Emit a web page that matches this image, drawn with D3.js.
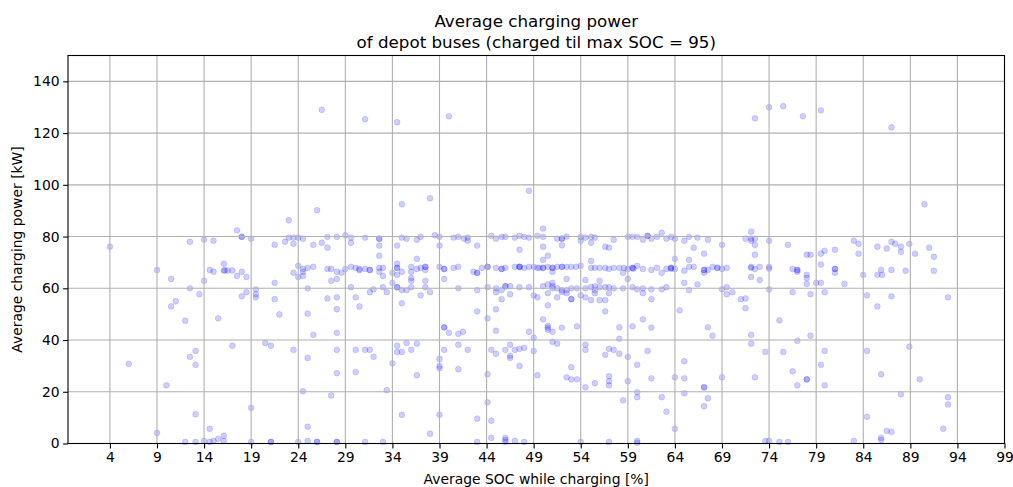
<!DOCTYPE html>
<html><head><meta charset="utf-8">
<script src="https://cdn.jsdelivr.net/npm/d3@7"></script>
<style>body{margin:0;background:#fff} text{font-family:"DejaVu Sans",sans-serif}</style>
</head><body><svg id="c" width="1013" height="487"></svg>
<script>
const titleLines = ["Average charging power", "of depot buses (charged til max SOC = 95)"];
const xLabel = "Average SOC while charging [%]";
const yLabel = "Average charging power [kW]";
const xTicks = [4,9,14,19,24,29,34,39,44,49,54,59,64,69,74,79,84,89,94,99];
const yTicks = [0,20,40,60,80,100,120,140];
// [average SOC %, average power kW]
const samples = [
[4.0,76.1],[6.0,30.8],[9.0,67.1],[10.5,63.6],[12.5,78.0],[14.0,78.8],[15.0,78.4],[16.1,69.5],[16.1,66.9],[16.2,66.9],[14.6,67.1],[15.0,66.4],[14.0,62.9],[12.5,60.0],[13.5,57.7],[11.0,55.0],[10.5,53.0],[12.0,47.5],[15.5,48.4],[13.1,35.8],[12.5,33.5],[13.1,30.4],[10.0,22.5],[13.1,11.3],[9.0,4.1],[14.6,5.7],[12.0,0.6],[13.1,0.6],[14.0,1.0],[14.6,0.6],[15.0,1.0],[15.5,1.8],[16.1,3.0],[16.1,1.0],
[16.5,66.9],[17.0,66.9],[17.5,82.4],[18.0,79.9],[18.0,79.9],[19.0,79.2],[17.5,64.8],[18.0,66.4],[18.5,64.4],[18.0,56.9],[18.5,58.5],[19.5,59.6],[19.5,57.7],[19.5,56.5],[17.0,37.8],[20.5,38.9],[21.1,37.8],[19.0,13.8],[19.0,0.6],[21.1,0.6],[21.1,0.6],[21.5,76.8],[21.5,62.1],[21.5,55.8],[22.0,49.9],[22.6,78.0],[23.0,86.3],[23.0,79.6],[23.5,79.6],[23.5,77.2],[24.0,79.6],[24.5,79.2],[23.5,66.0],[24.0,68.7],[24.0,64.4],[24.5,66.4],[24.5,64.8],[24.5,67.5],[25.0,67.9],[25.6,68.3],[25.0,60.0],[23.5,36.2],[25.0,50.2],[25.6,42.0],[25.0,33.1],[24.5,20.2],[25.0,6.5],[24.0,0.6],[25.0,1.0],[26.0,0.6],[26.0,0.6],[26.0,90.2],[25.6,76.8],[26.5,129.0],[26.5,77.6],[27.1,79.9],[27.1,75.7],[27.1,67.5],[27.5,67.5],[27.5,62.9],[28.1,63.6],[28.1,66.4],[28.6,66.0],[29.0,67.5],[28.1,79.9],[29.0,80.5],[29.6,79.6],[29.6,77.6],[31.1,79.6],[27.1,56.1],[28.1,56.5],[28.1,51.9],[28.1,42.8],[28.1,36.2],[28.1,27.2],[27.5,18.6],[28.1,0.6],[28.1,0.6],[29.6,68.3],[30.1,67.9],[30.5,67.5],[30.5,67.0],[31.1,67.5],[31.6,67.1],[31.6,67.1],[29.6,60.4],[30.1,56.5],[30.5,53.0],[30.1,36.2],[30.1,27.6],[31.1,36.2],[31.6,36.2],[32.0,33.5],[31.1,0.6],[31.1,125.4],[31.6,58.5],[32.0,59.6],[32.6,79.2],[32.6,79.2],[32.6,76.5],[32.6,72.6],[32.6,67.9],[32.6,66.4],[33.0,67.9],[33.0,64.8],[33.0,60.4],[33.0,0.6],
[34.5,124.2],[40.0,126.5],[35.0,92.5],[38.0,94.8],[48.5,97.7],[35.0,79.6],[35.5,79.2],[36.6,78.8],[37.0,79.9],[38.5,80.5],[39.0,79.9],[40.5,79.6],[41.0,79.9],[41.6,79.2],[42.0,79.6],[42.0,78.4],[43.0,76.5],[44.5,80.3],[45.0,79.2],[45.6,79.9],[46.0,79.9],[47.0,79.6],[47.5,80.3],[48.0,79.9],[48.5,79.6],[49.4,80.3],[34.5,76.5],[39.0,76.5],[47.5,74.9],[34.5,69.5],[34.5,67.9],[34.5,67.9],[34.0,66.0],[34.5,65.2],[35.0,66.4],[36.0,68.3],[36.0,66.4],[36.6,71.4],[36.6,67.5],[37.0,67.9],[37.5,68.3],[37.5,68.3],[37.5,67.1],[36.0,64.0],[36.0,62.9],[37.5,62.9],[39.0,68.3],[39.5,67.5],[39.5,67.5],[39.5,63.6],[40.5,67.9],[41.0,68.3],[42.6,66.4],[43.0,66.0],[43.0,66.0],[43.5,67.9],[44.1,68.3],[44.1,68.3],[45.0,67.9],[45.6,67.5],[45.6,67.5],[46.0,67.9],[47.0,68.3],[47.5,68.3],[47.5,68.3],[47.5,68.3],[48.0,67.9],[48.5,68.3],[49.0,68.3],[49.4,67.9],[33.4,58.5],[34.0,62.1],[34.5,60.4],[34.5,60.4],[35.0,59.3],[35.5,59.3],[36.0,60.4],[37.0,57.3],[37.5,60.4],[38.0,58.5],[41.0,60.0],[43.0,59.3],[44.1,60.4],[45.0,60.0],[45.0,58.5],[45.6,59.3],[46.0,60.8],[46.0,60.8],[46.5,57.7],[46.5,60.8],[47.5,60.4],[48.5,60.4],[49.0,57.3],[49.4,56.5],[35.0,54.2],[43.0,51.1],[44.1,48.4],[45.0,51.9],[45.6,55.8],[39.5,44.9],[39.5,44.9],[40.0,42.8],[41.0,42.4],[41.5,43.2],[45.0,43.6],[48.5,43.2],[49.0,40.9],[34.5,37.8],[34.5,35.4],[35.0,35.4],[35.5,38.9],[36.0,36.2],[36.6,38.6],[39.5,36.2],[41.0,38.2],[42.0,36.2],[44.5,36.2],[45.0,34.7],[46.0,36.2],[46.5,38.2],[46.5,33.9],[46.5,33.1],[47.0,36.2],[47.5,36.6],[48.0,37.0],[49.0,35.8],[34.0,31.0],[39.0,32.7],[39.0,30.0],[39.0,29.1],[41.0,28.7],[36.6,26.4],[44.1,26.8],[47.5,30.0],[49.4,26.4],[33.4,20.6],[35.0,11.1],[39.0,11.1],[44.1,15.9],[43.0,9.6],[44.5,8.8],[38.0,3.8],[43.0,0.6],[44.5,2.2],[46.0,2.2],[46.0,1.4],[46.0,0.6],[47.0,1.0],[48.0,0.6],
[50.0,83.1],[50.0,79.9],[50.0,76.1],[50.5,72.6],[50.0,71.0],[51.5,79.2],[52.0,79.2],[52.0,79.2],[52.5,80.0],[52.0,76.6],[54.0,79.9],[54.0,78.4],[54.5,79.6],[55.1,79.9],[55.5,79.6],[55.1,77.6],[56.6,76.1],[57.0,75.7],[57.5,78.8],[59.0,79.9],[59.5,79.9],[60.0,79.9],[60.6,78.8],[61.1,80.3],[61.1,80.3],[61.5,79.2],[62.1,79.9],[62.6,81.5],[63.1,79.2],[63.6,79.9],[64.0,79.2],[65.0,78.4],[65.5,79.9],[66.0,75.7],[66.4,79.6],[64.0,71.4],[65.5,71.0],[49.6,67.9],[50.0,67.9],[50.0,67.9],[50.5,68.3],[51.0,67.9],[51.0,67.9],[51.5,68.3],[52.0,68.3],[52.0,68.3],[52.5,68.3],[53.0,68.3],[53.5,68.3],[54.0,68.7],[55.1,67.9],[55.1,70.6],[55.5,67.9],[56.0,67.9],[56.6,67.9],[57.0,67.5],[57.5,67.9],[58.1,67.9],[58.6,67.9],[58.5,66.0],[59.0,67.5],[59.5,67.9],[59.5,67.9],[59.6,67.6],[60.0,68.7],[60.6,67.5],[61.5,67.1],[62.1,67.9],[62.6,66.0],[63.1,67.5],[63.6,67.9],[63.6,67.9],[63.6,67.6],[64.0,67.5],[65.0,66.8],[65.5,68.3],[66.0,68.3],[51.0,66.4],[50.0,60.8],[50.5,61.5],[51.0,62.1],[51.0,60.8],[51.0,60.0],[51.5,60.0],[52.0,59.3],[52.5,63.6],[52.5,59.3],[53.0,60.0],[53.6,60.0],[54.5,63.2],[54.5,60.0],[55.1,60.4],[55.5,60.8],[55.5,59.3],[55.5,58.1],[56.0,62.9],[56.0,60.4],[56.6,60.4],[57.0,60.4],[57.0,58.1],[57.5,60.0],[58.5,60.0],[59.0,63.6],[59.5,60.4],[60.0,59.6],[60.6,60.0],[60.6,58.1],[61.5,59.6],[61.5,55.8],[62.6,59.6],[63.1,60.4],[65.0,62.1],[65.5,59.3],[66.4,61.5],[50.5,58.1],[51.5,56.5],[52.0,58.5],[52.5,58.1],[53.0,55.8],[53.0,55.8],[54.0,57.3],[54.5,56.5],[55.1,55.4],[56.0,55.4],[56.6,55.4],[56.6,51.1],[50.5,53.4],[50.0,48.0],[50.5,45.5],[50.5,44.8],[50.5,44.0],[51.0,43.2],[52.0,44.8],[53.6,45.3],[51.0,39.3],[51.5,38.6],[54.5,38.2],[54.5,36.2],[57.0,36.6],[56.6,34.3],[57.5,36.2],[58.1,34.7],[58.1,44.9],[58.1,40.5],[59.5,45.3],[60.6,48.0],[61.5,44.8],[59.0,33.5],[60.0,30.4],[61.1,35.8],[64.5,51.5],[65.0,31.8],[53.0,29.5],[52.5,25.6],[53.0,24.8],[53.6,24.8],[54.5,21.7],[55.5,23.3],[57.0,26.0],[57.0,24.1],[57.0,22.5],[59.0,24.1],[60.0,19.8],[60.0,17.9],[58.5,16.7],[61.5,25.2],[62.6,17.9],[63.1,12.3],[64.0,25.6],[65.0,25.2],[65.0,19.4],[64.0,5.7],[54.0,0.6],[57.0,0.6],[60.0,1.0],[60.0,0.3],
[67.5,78.8],[69.0,76.8],[67.1,73.4],[67.1,67.1],[67.1,67.1],[67.5,67.1],[68.0,68.3],[68.5,67.9],[68.5,67.9],[69.0,67.5],[69.5,67.9],[67.1,66.0],[69.0,59.6],[69.5,60.4],[69.5,57.7],[70.1,58.5],[71.0,55.8],[71.5,56.1],[71.5,52.3],[71.5,79.2],[72.1,81.9],[72.1,78.4],[72.1,79.2],[72.5,79.2],[72.5,76.8],[72.5,73.0],[72.1,68.3],[72.1,67.9],[72.5,67.5],[73.0,68.3],[72.1,64.4],[73.0,63.2],[74.0,78.4],[74.0,68.3],[74.0,67.6],[74.0,59.6],[76.0,76.8],[76.5,67.5],[77.0,67.1],[77.0,67.1],[77.0,66.4],[78.0,73.0],[78.4,73.0],[78.0,65.2],[78.0,64.0],[78.0,61.7],[79.0,62.1],[79.5,62.1],[79.5,69.2],[79.5,73.4],[79.9,74.5],[81.0,74.9],[81.0,67.5],[81.0,67.5],[81.0,66.0],[82.0,61.7],[83.0,78.4],[76.5,58.5],[78.4,57.7],[79.9,58.5],[75.1,47.6],[67.5,44.9],[68.0,41.7],[72.1,42.0],[72.1,38.6],[77.0,39.7],[78.4,41.7],[73.6,35.4],[75.5,35.4],[79.9,35.8],[79.5,30.4],[76.5,27.9],[69.0,25.6],[72.5,25.6],[77.0,22.5],[78.0,24.8],[78.0,24.8],[79.9,22.5],[67.1,21.7],[67.1,21.7],[67.5,17.5],[67.1,14.4],[74.0,130.0],[75.5,130.4],[72.5,125.7],[77.6,126.5],[79.5,128.8],[73.6,1.0],[74.0,1.0],[75.1,0.6],[76.0,0.6],[83.0,1.0],
[83.5,77.2],[83.5,73.4],[84.0,65.2],[85.5,76.1],[86.5,75.4],[87.0,78.0],[87.4,77.2],[88.0,76.1],[88.0,74.1],[88.9,77.2],[89.5,73.4],[91.0,75.7],[91.5,72.2],[85.5,65.2],[86.0,65.2],[85.9,67.1],[87.0,67.1],[88.5,66.8],[91.5,66.8],[84.4,57.3],[85.5,53.0],[87.0,56.9],[93.0,56.5],[87.0,122.2],[90.5,92.5],[84.4,35.8],[88.9,37.4],[85.9,26.8],[90.0,24.8],[88.0,19.0],[93.0,17.9],[93.0,15.1],[84.4,10.3],[92.5,5.7],[86.5,4.9],[87.0,4.5],[85.9,2.2],[85.9,1.4]
];
const socValues = samples.map(d => d[0]);
const powerValues = samples.map(d => d[1]);

const svg = d3.select("#c");
svg.append("rect").attr("width",1013).attr("height",487).attr("fill","#fff");
const L = 68, R = 1004.5, T = 55.5, B = 443.5;
const x = d3.scaleLinear().domain([-0.45, 99]).range([L, R]);
const y = d3.scaleLinear().domain([0, 150]).range([B, T]);

// points
svg.append("g").selectAll("circle").data(socValues).join("circle")
  .attr("cx", (d,i) => x(d)).attr("cy", (d,i) => y(powerValues[i])).attr("r", 2.9)
  .attr("fill", "blue").attr("fill-opacity", 0.19)
  .attr("stroke", "blue").attr("stroke-opacity", 0.15).attr("stroke-width", 0.9);

// grid
const grid = svg.append("g").attr("stroke", "#b0b0b0").attr("stroke-width", 1.1);
grid.selectAll(".vx").data(xTicks).join("line").attr("x1", d => x(d)).attr("x2", d => x(d)).attr("y1", T).attr("y2", B);
grid.selectAll(".hy").data(yTicks).join("line").attr("y1", d => y(d)).attr("y2", d => y(d)).attr("x1", L).attr("x2", R);

// axes
const xa = svg.append("g").attr("transform", `translate(0,${B})`)
  .call(d3.axisBottom(x).tickValues(xTicks).tickSize(4.9).tickPadding(3.5).tickSizeOuter(0));
const ya = svg.append("g").attr("transform", `translate(${L},0)`)
  .call(d3.axisLeft(y).tickValues(yTicks).tickSize(4.9).tickPadding(3.5).tickSizeOuter(0));
[xa, ya].forEach(a => {
  a.select(".domain").remove();
  a.selectAll("text").attr("font-size", "13.9px").attr("fill", "#000").attr("font-family", "DejaVu Sans");
  a.selectAll("line").attr("stroke", "#000").attr("stroke-width", 1.1);
});

// frame
svg.append("rect").attr("x", L).attr("y", T).attr("width", R - L).attr("height", B - T)
  .attr("fill", "none").attr("stroke", "#000").attr("stroke-width", 1.1);

// labels
const cx = (L + R) / 2;
svg.append("text").attr("x", cx).attr("y", 484).attr("text-anchor", "middle").attr("font-size", "13.9px").text(xLabel);
svg.append("text").attr("transform", `translate(22,${(T + B) / 2}) rotate(-90)`).attr("text-anchor", "middle").attr("font-size", "13.9px").text(yLabel);
svg.selectAll(".title").data(titleLines).join("text")
  .attr("x", cx).attr("y", (d,i) => 27 + i * 20.5).attr("text-anchor", "middle").attr("font-size", "16.7px").text(d => d);
</script></body></html>
